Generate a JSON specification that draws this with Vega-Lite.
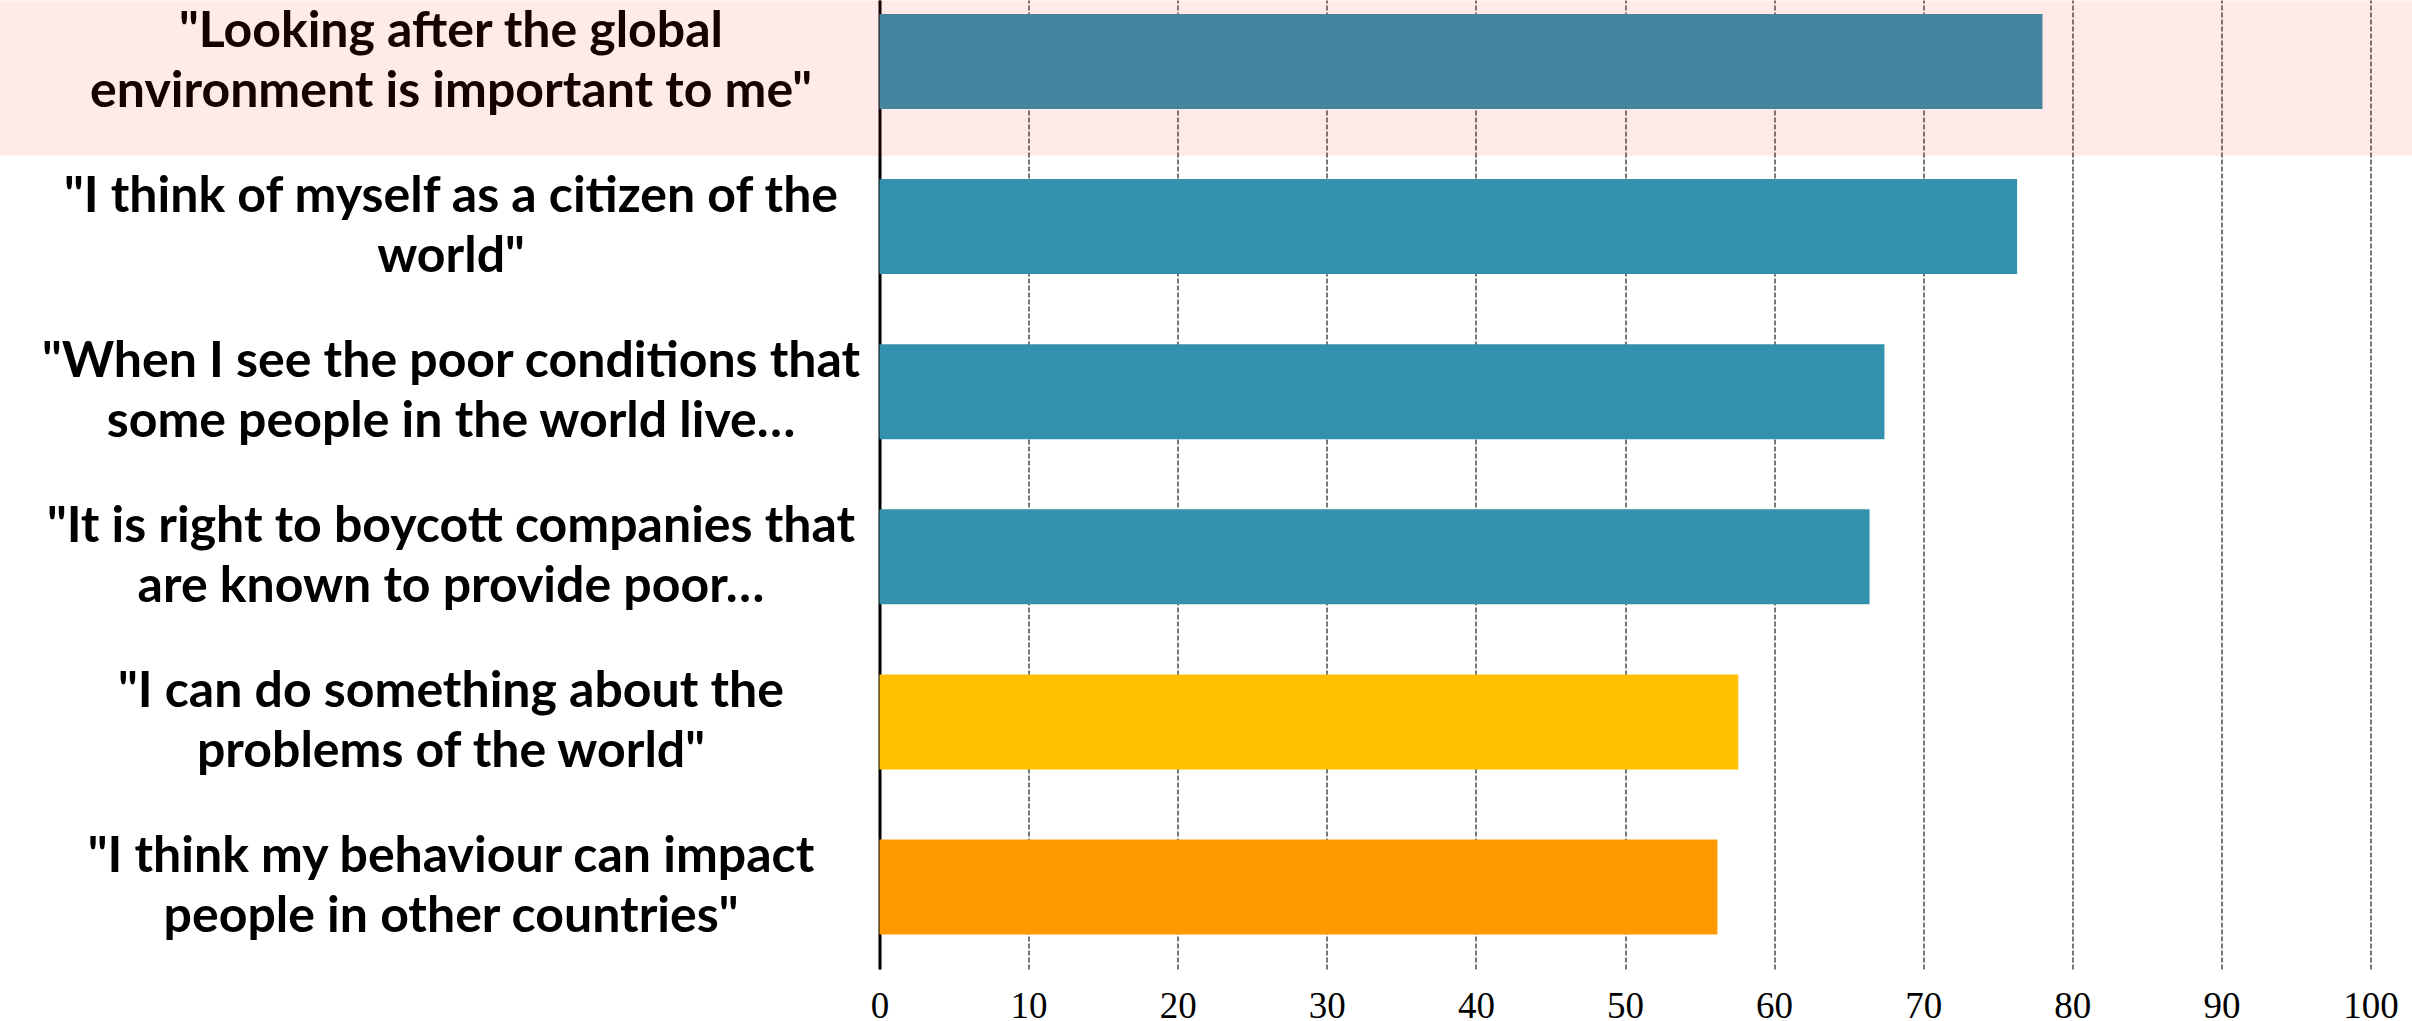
{
  "$schema": "https://vega.github.io/schema/vega-lite/v6.json",
  "width": 1491,
  "height": 969,
  "autosize": {"type": "none"},
  "padding": {"left": 879.5, "top": 0, "right": 41, "bottom": 52},
  "background": "white",
  "config": {"view": {"stroke": null}},
  "data": {
    "values": [
      {"statement": "\"Looking after the global|environment is important to me\"", "pct": 78.0, "group": "teal", "highlighted": true},
      {"statement": "\"I think of myself as a citizen of the|world\"", "pct": 76.3, "group": "teal", "highlighted": false},
      {"statement": "\"When I see the poor conditions that|some people in the world live…", "pct": 67.4, "group": "teal", "highlighted": false},
      {"statement": "\"It is right to boycott companies that|are known to provide poor…", "pct": 66.4, "group": "teal", "highlighted": false},
      {"statement": "\"I can do something about the|problems of the world\"", "pct": 57.6, "group": "yellow", "highlighted": false},
      {"statement": "\"I think my behaviour can impact|people in other countries\"", "pct": 56.2, "group": "orange", "highlighted": false}
    ]
  },
  "layer": [
    {
      "mark": {"type": "bar"},
      "encoding": {
        "y": {
          "field": "statement",
          "type": "nominal",
          "sort": null,
          "scale": {"paddingInner": 0.4246, "paddingOuter": 0.1469, "align": 0.289},
          "axis": {
            "title": null,
            "ticks": false,
            "grid": false,
            "domain": true,
            "domainColor": "#000000",
            "domainWidth": 3,
            "labelAlign": "center",
            "labelBaseline": "middle",
            "labelPadding": 429,
            "labelOffset": -30,
            "labelFont": "Lato",
            "labelFontWeight": "bold",
            "labelFontSize": 50,
            "labelLineHeight": 60,
            "labelColor": "#000000",
            "labelLimit": 0,
            "labelExpr": "split(datum.value, '|')",
            "zindex": 0
          }
        },
        "x": {
          "field": "pct",
          "type": "quantitative",
          "scale": {"domain": [0, 100], "nice": false},
          "axis": {
            "title": null,
            "orient": "bottom",
            "values": [0, 10, 20, 30, 40, 50, 60, 70, 80, 90, 100],
            "grid": true,
            "gridDash": [5, 2],
            "gridColor": "#555a56",
            "gridWidth": 1.6,
            "domain": false,
            "ticks": false,
            "labelFont": "Liberation Sans Narrow",
            "labelFontSize": 37,
            "labelPadding": 19,
            "labelColor": "#000000",
            "labelFlush": false,
            "labelOverlap": false,
            "zindex": 0
          }
        },
        "color": {
          "field": "group",
          "type": "nominal",
          "scale": {"domain": ["teal", "yellow", "orange"], "range": ["#3391ad", "#ffc000", "#ff9900"]},
          "legend": null
        }
      }
    },
    {
      "transform": [{"filter": "datum.highlighted"}],
      "mark": {"type": "rect", "fill": "#ff0000", "opacity": 0.087, "height": {"band": 1.632}, "yOffset": 16.5},
      "encoding": {
        "y": {"field": "statement", "type": "nominal", "sort": null},
        "x": {"datum": -59.1},
        "x2": {"datum": 103}
      }
    }
  ]
}
